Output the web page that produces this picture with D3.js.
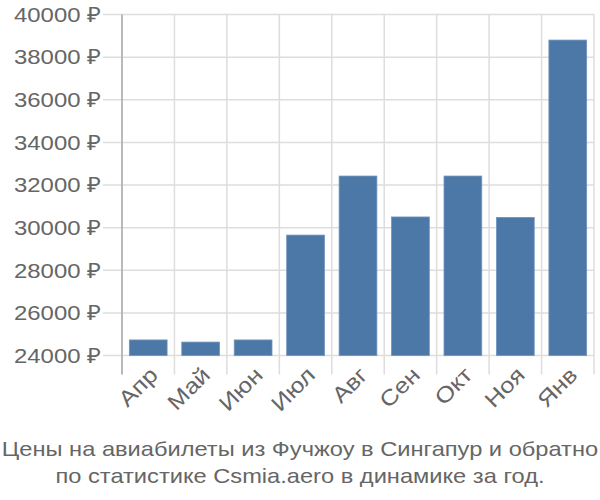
<!DOCTYPE html>
<html><head><meta charset="utf-8">
<script src="https://cdn.jsdelivr.net/npm/d3@7"></script>
<style>body{margin:0;background:#fff}svg{display:block}</style>
</head><body>
<svg id="c" width="600" height="500"></svg>
<script>
const categories = ["Апр","Май","Июн","Июл","Авг","Сен","Окт","Ноя","Янв"];
const values = [24730, 24630, 24730, 29650, 32420, 30500, 32420, 30480, 38800];
const yTicks = [24000,26000,28000,30000,32000,34000,36000,38000,40000];
const titleLines = ["Цены на авиабилеты из Фучжоу в Сингапур и обратно","по статистике Csmia.aero в динамике за год."];

const svg = d3.select("#c");
const L=122, R=594, T=14.5, B=355.5;
const x = d3.scaleBand().domain(categories).range([L,R]).paddingInner(0.28).paddingOuter(0.14);
const y = d3.scaleLinear().domain([24000,40000]).range([B,T]);
const font = "'Liberation Sans', Arial, sans-serif";

// horizontal grid
svg.append("g").selectAll("line").data(yTicks).join("line")
  .attr("x1",L-19).attr("x2",R).attr("y1",d=>y(d)).attr("y2",d=>y(d))
  .attr("stroke","#ddd").attr("stroke-width",1.5);
// vertical grid
const bounds = categories.map(c=>x(c)-x.step()*x.paddingInner()/2).concat([R]);
svg.append("g").selectAll("line").data(bounds).join("line")
  .attr("x1",d=>d).attr("x2",d=>d).attr("y1",T).attr("y2",B+19)
  .attr("stroke","#ddd").attr("stroke-width",1.5);
// left axis line
svg.append("line").attr("x1",L).attr("x2",L).attr("y1",T).attr("y2",B+19)
  .attr("stroke","#aaa").attr("stroke-width",1.5);

// bars
svg.append("g").selectAll("rect").data(values).join("rect")
  .attr("x",(d,i)=>x(categories[i])).attr("width",x.bandwidth())
  .attr("y",d=>y(d)).attr("height",d=>B-y(d))
  .attr("fill","#4c78a8").attr("stroke","#6f93bd").attr("stroke-width",0.8);

// y labels
svg.append("g").selectAll("text").data(yTicks).join("text")
  .attr("transform",d=>`translate(101,${y(d)}) scale(1.14,1)`)
  .attr("dy","0.35em").attr("text-anchor","end")
  .attr("font-family",font).attr("font-size",21).attr("fill","#666")
  .text(d=>d+" ₽");

// x labels
svg.append("g").selectAll("text").data(categories).join("text")
  .attr("text-anchor","end").attr("font-family",font).attr("font-size",22).attr("fill","#666")
  .attr("transform",c=>`translate(${x(c)+x.bandwidth()/2},${B+10}) rotate(-45) scale(1.15,1)`)
  .attr("dy","0.7em")
  .text(c=>c);

// title
svg.append("g").selectAll("text").data(titleLines).join("text")
  .attr("transform",(d,i)=>`translate(300,${456+i*27}) scale(1.126,1)`)
  .attr("text-anchor","middle")
  .attr("font-family",font).attr("font-size",21).attr("fill","#666")
  .text(d=>d);
</script>
</body></html>
